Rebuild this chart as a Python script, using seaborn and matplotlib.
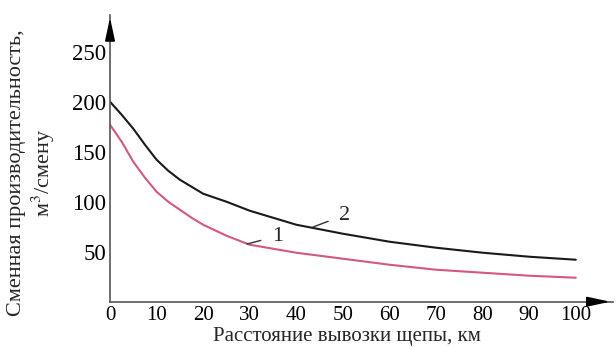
import matplotlib
matplotlib.use("Agg")
import matplotlib.pyplot as plt
import seaborn as sns
import pandas as pd

# distance, km
dist = [0, 2.5, 5, 7.5, 10, 12.5, 15, 17.5, 20, 25, 30, 35, 40, 50, 60, 70, 80, 90, 100]
# curve 1 (red) and curve 2 (black), m3 per shift
curve1 = [177, 160, 140, 124, 110, 100, 92, 84, 77, 66, 57, 53, 49, 43, 37, 32, 29, 26, 24]
curve2 = [200, 187, 173, 157, 142, 131, 122, 115, 108, 100, 91, 84, 77, 68, 60, 54, 49, 45, 42]
xticks = [0, 10, 20, 30, 40, 50, 60, 70, 80, 90, 100]
yticks = [50, 100, 150, 200, 250]

df = pd.DataFrame({"dist": dist * 2,
                   "val": curve1 + curve2,
                   "curve": ["1"] * len(dist) + ["2"] * len(dist)})

sns.set_style("white")
plt.rcParams["font.family"] = ["Liberation Serif", "DejaVu Serif"]
plt.rcParams["mathtext.fontset"] = "stix"

fig = plt.figure(figsize=(6.16, 3.47), dpi=100)
ax = fig.add_axes([0.1786, 0.1305, 0.8166, 0.827])

sns.lineplot(data=df, x="dist", y="val", hue="curve",
             palette={"1": "#d4587c", "2": "#1a1a1a"},
             linewidth=1.5, legend=False, ax=ax)

ax.set_xlim(0, 108)
ax.set_ylim(0, 287)
ax.set_xticks(xticks)
ax.set_yticks(yticks)
ax.tick_params(direction="in", length=6, width=1, color="#555555",
               labelcolor="black")
ax.tick_params(axis="x", labelsize=15, pad=3)
ax.tick_params(axis="y", labelsize=16.5, pad=3)

for side in ["top", "right"]:
    ax.spines[side].set_visible(False)
for side in ["left", "bottom"]:
    ax.spines[side].set_color("#555555")
    ax.spines[side].set_linewidth(1.2)

# axis arrows
ax.annotate("", xy=(1.0, 0), xytext=(0.95, 0), xycoords="axes fraction",
            arrowprops=dict(arrowstyle="-|>,head_length=1.4,head_width=0.3",
                            color="black", lw=1.2), annotation_clip=False)
ax.annotate("", xy=(0, 1.0), xytext=(0, 0.93), xycoords="axes fraction",
            arrowprops=dict(arrowstyle="-|>,head_length=1.4,head_width=0.3",
                            color="black", lw=1.2), annotation_clip=False)

# curve labels
ax.annotate("2", xy=(43.6, 74.7), xytext=(50.4, 86.7), fontsize=16,
            ha="center", va="center",
            arrowprops=dict(arrowstyle="-", color="#333333", lw=1, shrinkA=6, shrinkB=0))
ax.annotate("1", xy=(29.4, 57.7), xytext=(36.0, 65.7), fontsize=16,
            ha="center", va="center",
            arrowprops=dict(arrowstyle="-", color="#333333", lw=1, shrinkA=6, shrinkB=0))

ax.set_xlabel("Расстояние вывозки щепы, км", fontsize=15)
ax.xaxis.label.set_va("baseline")
ax.xaxis.set_label_coords(0.47, -0.137)
ax.set_ylabel("Сменная производительность,\nм$^3$/смену", fontsize=16)
ax.yaxis.label.set_va("center")
ax.yaxis.set_label_coords(-0.155, 0.45)

fig.savefig("out.png", dpi=100)
